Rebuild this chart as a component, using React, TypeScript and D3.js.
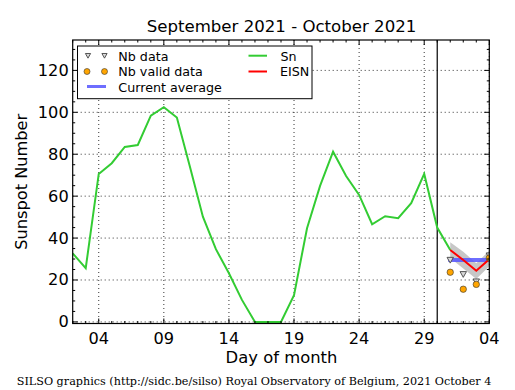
import React from 'react';
import * as d3 from 'd3';

// day index: September days as-is, October days as 30 + day
const snDays = [2, 3, 4, 5, 6, 7, 8, 9, 10, 11, 12, 13, 14, 15, 16, 17, 18, 19, 20, 21, 22, 23, 24, 25, 26, 27, 28, 29, 30, 31];
const snValues = [32.7, 25.6, 70.6, 75.7, 83.5, 84.4, 98.4, 102.4, 97.5, 74.1, 50.2, 34.7, 23.2, 10.5, 0, 0, 0, 12.8, 44.7, 64.9, 81.2, 69.6, 60.6, 46.6, 50.4, 49.5, 56.6, 70.6, 45, 34.3];

const eisnDays = [31, 32, 33, 34];
const eisnValues = [34.3, 29.5, 24.4, 29.9];
const eisnLow = [30.5, 25.5, 20.5, 26.5];
const eisnHigh = [38, 33.5, 28, 34];
const nbData = [29.5, 22.7, 19.2, 31.6];
const nbValid = [23.7, 15.6, 17.9, 30.5];
const currentAverage = 29.5;

const xTicks = [4, 9, 14, 19, 24, 29, 34];
const yTicks = [0, 20, 40, 60, 80, 100, 120];
const monthEnd = 30;

const W = 515;
const H = 390;
const L = 72.7, R = 489.3, T = 40, B = 323.5;

const FONT = '"DejaVu Sans", sans-serif';

const tri = (cx: number, cy: number, s = 3.2) =>
  `M${cx - s},${cy - s * 0.85}L${cx + s},${cy - s * 0.85}L${cx},${cy + s * 0.95}Z`;

export default function App() {
  const x = d3.scaleLinear().domain([2, 34]).range([L, R]);
  const y = d3.scaleLinear().domain([-0.76, 134.5]).range([B, T]);

  const snLine = d3.line<number>().x((_, i) => x(snDays[i])).y(d => y(d));
  const eisnLine = d3.line<number>().x((_, i) => x(eisnDays[i])).y(d => y(d));
  const band = d3.area<number>()
    .x((_, i) => x(eisnDays[i]))
    .y0((_, i) => y(eisnLow[i]))
    .y1(d => y(d));

  const xMinor = d3.range(2, 35, 1);
  const yMinor = d3.range(0, 135, 5);
  const fmtX = (d: number) => String(d > monthEnd ? d - monthEnd : d).padStart(2, '0');

  return (
    <div style={{ position: 'absolute', left: 0, top: 0 }}>
      <svg width={W} height={H} style={{ display: 'block', background: '#fff' }}>
        <defs>
          <clipPath id="plot">
            <rect x={L} y={T} width={R - L} height={B - T} />
          </clipPath>
        </defs>
        <rect x={0} y={0} width={W} height={H} fill="#fff" />
        <text x={281.5} y={32} textAnchor="middle" fontFamily={FONT} fontSize={16.6}>
          September 2021 - October 2021
        </text>

        {/* grid */}
        <g stroke="#000" strokeWidth={0.8} strokeDasharray="1,3">
          {xTicks.map(d => (
            <line key={'gx' + d} x1={x(d)} x2={x(d)} y1={T} y2={B} />
          ))}
          {yTicks.map(d => (
            <line key={'gy' + d} x1={L} x2={R} y1={y(d)} y2={y(d)} />
          ))}
        </g>

        <g clipPath="url(#plot)">
          {/* EISN uncertainty band */}
          <path d={band(eisnHigh) || ''} fill="#b4b4b4" fillOpacity={0.75} stroke="none" />

          {/* month boundary */}
          <line x1={x(monthEnd)} x2={x(monthEnd)} y1={T} y2={B} stroke="#000" strokeWidth={1.2} />

          <path d={snLine(snValues) || ''} fill="none" stroke="#33cc33" strokeWidth={2} />

          <line x1={x(eisnDays[0])} x2={x(eisnDays[eisnDays.length - 1])} y1={y(currentAverage)} y2={y(currentAverage)}
            stroke="#5555ff" strokeOpacity={0.85} strokeWidth={4} strokeLinecap="square" />

          <path d={eisnLine(eisnValues) || ''} fill="none" stroke="#ff0000" strokeWidth={2} />

          {nbData.map((v, i) => (
            <path key={'t' + i} d={tri(x(eisnDays[i]), y(v))} fill="#d8d8d8" stroke="#444" strokeWidth={0.9} />
          ))}
          {nbValid.map((v, i) => (
            <circle key={'c' + i} cx={x(eisnDays[i])} cy={y(v)} r={3.2} fill="#ffa500" stroke="#333" strokeWidth={0.6} />
          ))}
        </g>

        {/* ticks, all four sides, pointing inward */}
        <g stroke="#000" strokeWidth={1}>
          {xMinor.map(d => (
            <g key={'xm' + d}>
              <line x1={x(d)} x2={x(d)} y1={B} y2={B - (d % 5 === 4 ? 5 : 2.5)} />
              <line x1={x(d)} x2={x(d)} y1={T} y2={T + (d % 5 === 4 ? 5 : 2.5)} />
            </g>
          ))}
          {yMinor.map(d => (
            <g key={'ym' + d}>
              <line x1={L} x2={L + (d % 20 === 0 ? 5 : 2.5)} y1={y(d)} y2={y(d)} />
              <line x1={R} x2={R - (d % 20 === 0 ? 5 : 2.5)} y1={y(d)} y2={y(d)} />
            </g>
          ))}
        </g>

        <rect x={L} y={T} width={R - L} height={B - T} fill="none" stroke="#000" strokeWidth={1.2} />

        {/* tick labels */}
        <g fontFamily={FONT} fontSize={16.2} fill="#000">
          {xTicks.map(d => (
            <text key={'xl' + d} x={x(d)} y={B + 20.5} textAnchor="middle">{fmtX(d)}</text>
          ))}
          {yTicks.map(d => (
            <text key={'yl' + d} x={L - 4} y={y(d)} textAnchor="end" dominantBaseline="central">{d}</text>
          ))}
        </g>

        <text x={281.5} y={363} textAnchor="middle" fontFamily={FONT} fontSize={16.4}>Day of month</text>
        <text transform={`translate(27,${(T + B) / 2}) rotate(-90)`} textAnchor="middle"
          fontFamily={FONT} fontSize={16.2}>Sunspot Number</text>

        {/* legend */}
        <g fontFamily={FONT} fontSize={12.7}>
          <rect x={77.5} y={46} width={234.5} height={52.7} fill="#fff" stroke="#000" strokeWidth={1} />
          <path d={tri(88, 55.7, 2.6)} fill="#d8d8d8" stroke="#444" strokeWidth={0.9} />
          <path d={tri(104.5, 55.7, 2.6)} fill="#d8d8d8" stroke="#444" strokeWidth={0.9} />
          <text x={118.3} y={56} dominantBaseline="central">Nb data</text>
          <circle cx={87} cy={71.5} r={3} fill="#ffa500" stroke="#333" strokeWidth={0.6} />
          <circle cx={104.5} cy={71.5} r={3} fill="#ffa500" stroke="#333" strokeWidth={0.6} />
          <text x={118.3} y={71.5} dominantBaseline="central">Nb valid data</text>
          <line x1={87} x2={106} y1={86.5} y2={86.5} stroke="#5555ff" strokeOpacity={0.85} strokeWidth={3} />
          <text x={118.3} y={87} dominantBaseline="central">Current average</text>
          <line x1={248.5} x2={267} y1={55.7} y2={55.7} stroke="#33cc33" strokeWidth={2} />
          <text x={280.5} y={56} dominantBaseline="central">Sn</text>
          <line x1={248.5} x2={267} y1={71.5} y2={71.5} stroke="#ff0000" strokeWidth={2} />
          <text x={280} y={71.5} dominantBaseline="central">EISN</text>
        </g>

        <text x={254} y={385} textAnchor="middle" fontFamily='"DejaVu Serif", serif' fontSize={11.2}>
          SILSO graphics (http://sidc.be/silso) Royal Observatory of Belgium, 2021 October 4
        </text>
      </svg>
    </div>
  );
}
